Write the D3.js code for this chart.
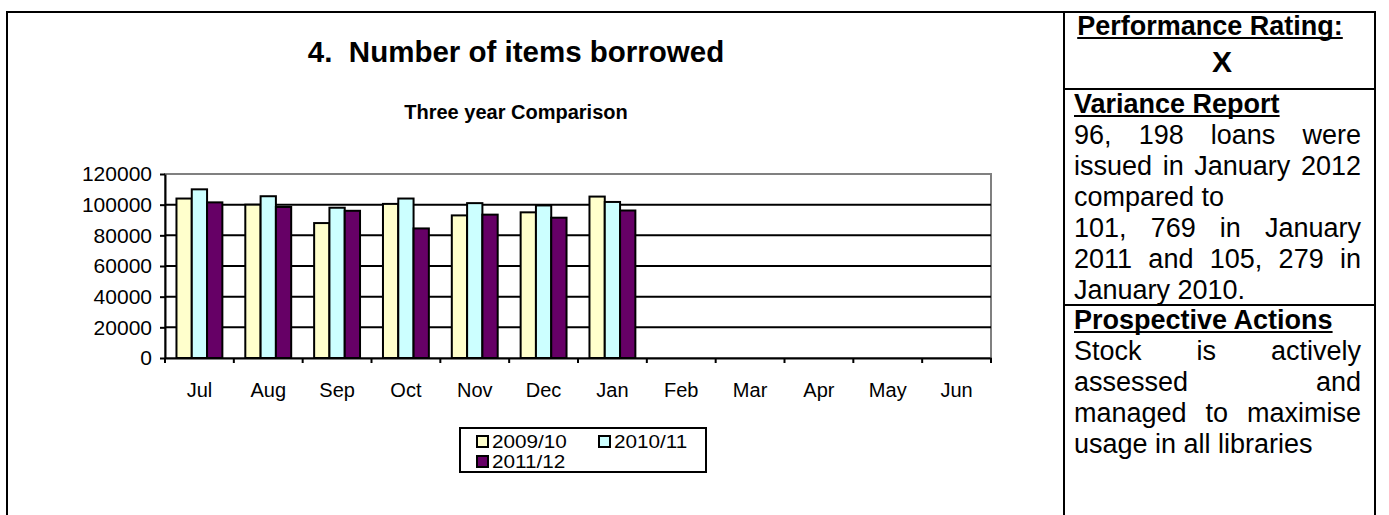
<!DOCTYPE html>
<html>
<head>
<meta charset="utf-8">
<script src="https://cdn.jsdelivr.net/npm/d3@7"></script>
<style>
  body { margin: 0; background: #fff; }
  text { font-family: Arial, "Liberation Sans", sans-serif; fill: #000; }
</style>
</head>
<body>
<svg id="page" width="1389" height="515"></svg>
<script>
// chart data
const months = ["Jul", "Aug", "Sep", "Oct", "Nov", "Dec", "Jan", "Feb", "Mar", "Apr", "May", "Jun"];
const seriesNames = ["2009/10", "2010/11", "2011/12"];
const loans0910 = [104000, 100000, 88000, 100500, 93000, 95000, 105279, null, null, null, null, null];
const loans1011 = [110000, 105500, 98000, 104000, 101000, 99500, 101769, null, null, null, null, null];
const loans1112 = [101500, 98500, 96000, 84500, 93500, 91500, 96198, null, null, null, null, null];
const seriesColors = ["#FFFFCC", "#CCFFFF", "#660066"];
const yTicks = [0, 20000, 40000, 60000, 80000, 100000, 120000];

const svg = d3.select("#page");

// outer frame and the table lines on the right
const frameLeft = 7, frameTop = 12, frameRight = 1375, divX = 1064;
svg.append("rect")
    .attr("x", frameLeft).attr("y", frameTop)
    .attr("width", frameRight - frameLeft).attr("height", 520)
    .attr("fill", "none").attr("stroke", "#000").attr("stroke-width", 2);
svg.append("line")
    .attr("x1", divX).attr("x2", divX).attr("y1", frameTop).attr("y2", 530)
    .attr("stroke", "#000").attr("stroke-width", 2);
[89, 305].forEach(y => {
    svg.append("line")
        .attr("x1", divX).attr("x2", frameRight).attr("y1", y).attr("y2", y)
        .attr("stroke", "#000").attr("stroke-width", 2);
});

// titles
svg.append("text")
    .attr("x", 516).attr("y", 62)
    .attr("text-anchor", "middle")
    .style("font-size", "29.5px").style("font-weight", "bold")
    .style("white-space", "pre")
    .text("4.  Number of items borrowed");
svg.append("text")
    .attr("x", 516).attr("y", 119)
    .attr("text-anchor", "middle")
    .style("font-size", "20px").style("font-weight", "bold")
    .text("Three year Comparison");

// plot area
const plotL = 165, plotR = 991, plotT = 174, plotB = 358;

const x0 = d3.scaleBand().domain(months).range([plotL, plotR]).padding(0);
const x1 = d3.scaleBand().domain(seriesNames).range([0, x0.bandwidth()])
    .paddingInner(0).paddingOuter(0.75);
const y = d3.scaleLinear().domain([0, 120000]).range([plotB, plotT]);

const chart = svg.append("g");

chart.append("rect")
    .attr("x", plotL).attr("y", plotT)
    .attr("width", plotR - plotL).attr("height", plotB - plotT)
    .attr("fill", "none").attr("stroke", "#808080").attr("stroke-width", 2);

chart.selectAll("line.grid")
    .data(yTicks.filter(t => t > 0 && t < 120000))
    .enter().append("line")
    .attr("class", "grid")
    .attr("x1", plotL).attr("x2", plotR)
    .attr("y1", d => y(d)).attr("y2", d => y(d))
    .attr("stroke", "#000").attr("stroke-width", 2);

// bars
const seriesValues = [loans0910, loans1011, loans1112];
const barData = [];
seriesValues.forEach((vals, s) => {
    vals.forEach((v, i) => {
        if (v !== null) barData.push({ month: months[i], series: seriesNames[s], value: v, color: seriesColors[s] });
    });
});

chart.selectAll("rect.bar")
    .data(barData)
    .enter().append("rect")
    .attr("class", "bar")
    .attr("x", d => x0(d.month) + x1(d.series))
    .attr("y", d => y(d.value))
    .attr("width", x1.bandwidth())
    .attr("height", d => y(0) - y(d.value))
    .attr("fill", d => d.color)
    .attr("stroke", "#000").attr("stroke-width", 2);

// y axis
const yAxis = chart.append("g")
    .attr("transform", "translate(" + plotL + ",0)")
    .call(d3.axisLeft(y).tickValues(yTicks).tickFormat(d3.format("d"))
        .tickSize(5).tickSizeOuter(0).tickPadding(8));
yAxis.select(".domain").attr("stroke", "#000").attr("stroke-width", 2);
yAxis.selectAll(".tick line").attr("stroke", "#000").attr("stroke-width", 2);
yAxis.selectAll(".tick text")
    .style("font-size", "21px")
    .style("font-family", "Arial, 'Liberation Sans', sans-serif");

// x axis
const xAxis = chart.append("g")
    .attr("transform", "translate(0," + plotB + ")")
    .call(d3.axisBottom(x0).tickSize(0).tickSizeOuter(0).tickPadding(25));
xAxis.select(".domain").attr("stroke", "#000").attr("stroke-width", 2);
xAxis.selectAll(".tick text")
    .style("font-size", "20px")
    .style("font-family", "Arial, 'Liberation Sans', sans-serif");

// tick marks between categories
const boundaries = months.map(m => x0(m)).concat([plotR]);
chart.selectAll("line.xtick")
    .data(boundaries)
    .enter().append("line")
    .attr("class", "xtick")
    .attr("x1", d => d).attr("x2", d => d)
    .attr("y1", plotB).attr("y2", plotB + 5)
    .attr("stroke", "#000").attr("stroke-width", 2);

// legend: tight rows like the Excel legend, glyphs widened a little
const legend = svg.append("g");
legend.append("rect")
    .attr("x", 460).attr("y", 428).attr("width", 246).attr("height", 44)
    .attr("fill", "#fff").attr("stroke", "#000").attr("stroke-width", 2);
const legendPos = [[477, 433], [599, 433], [477, 453]];
seriesNames.forEach((name, i) => {
    const [lx, ly] = legendPos[i];
    legend.append("rect")
        .attr("x", lx).attr("y", ly + 3).attr("width", 11).attr("height", 11)
        .attr("fill", seriesColors[i]).attr("stroke", "#000").attr("stroke-width", 2);
    const t = legend.append("text")
        .attr("x", lx + 15).attr("y", ly + 15)
        .style("font-size", "18px")
        .text(name);
    const w = t.node().getComputedTextLength();
    t.attr("textLength", w * 1.15).attr("lengthAdjust", "spacingAndGlyphs");
});

// right hand panel
const panelL = 1074, panelR = 1361;
const panel = svg.append("g");

function heading(txt, x, yb, size, anchor, underline) {
    const t = panel.append("text")
        .attr("x", x).attr("y", yb)
        .attr("text-anchor", anchor)
        .style("font-size", size + "px").style("font-weight", "bold")
        .text(txt);
    if (underline) {
        const w = t.node().getComputedTextLength();
        const start = anchor === "middle" ? x - w / 2 : x;
        panel.append("line")
            .attr("x1", start).attr("x2", start + w)
            .attr("y1", yb + 3).attr("y2", yb + 3)
            .attr("stroke", "#000").attr("stroke-width", 2);
    }
}

function bodyLine(txt, yb, justify) {
    if (!justify) {
        panel.append("text").attr("x", panelL).attr("y", yb)
            .style("font-size", "27px").text(txt);
        return;
    }
    const words = txt.split(" ");
    const nodes = words.map(w => panel.append("text").attr("y", yb).style("font-size", "27px").text(w));
    const widths = nodes.map(n => n.node().getComputedTextLength());
    const gap = (panelR - panelL - d3.sum(widths)) / (words.length - 1);
    let cx = panelL;
    nodes.forEach((n, i) => { n.attr("x", cx); cx += widths[i] + gap; });
}

heading("Performance Rating:", 1210, 35, 27, "middle", true);
heading("X", 1222, 72, 30, "middle", false);

const pitch = 31;
heading("Variance Report", panelL, 89 + 24, 27, "start", true);
const varianceLines = [
    ["96, 198 loans were", true],
    ["issued in January 2012", true],
    ["compared to", false],
    ["101, 769 in January", true],
    ["2011 and 105, 279 in", true],
    ["January 2010.", false]
];
varianceLines.forEach((l, i) => bodyLine(l[0], 89 + 24 + pitch * (i + 1), l[1]));

heading("Prospective Actions", panelL, 305 + 24, 27, "start", true);
const actionLines = [
    ["Stock is actively", true],
    ["assessed and", true],
    ["managed to maximise", true],
    ["usage in all libraries", false]
];
actionLines.forEach((l, i) => bodyLine(l[0], 305 + 24 + pitch * (i + 1), l[1]));
</script>
</body>
</html>
